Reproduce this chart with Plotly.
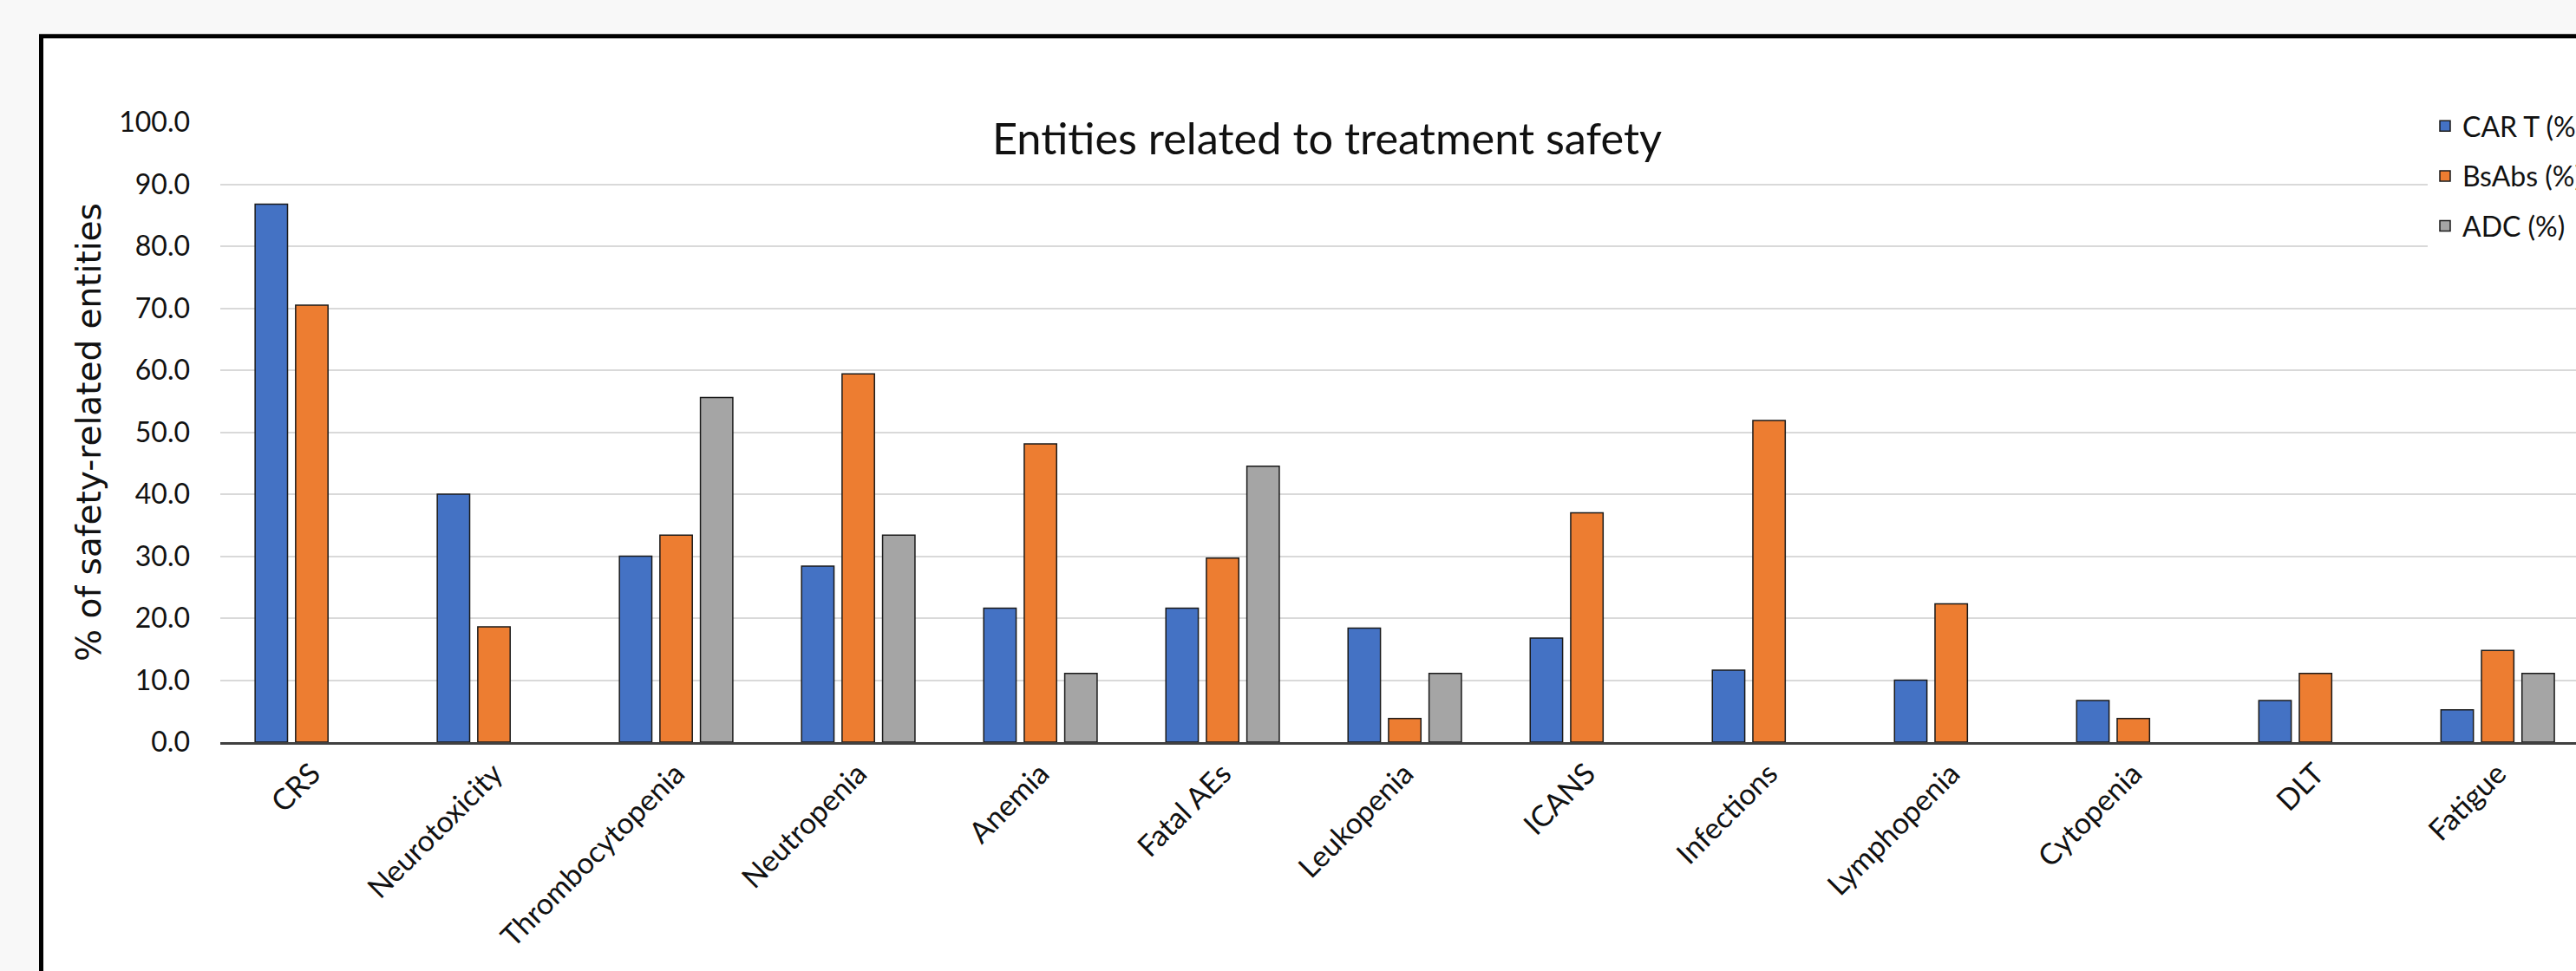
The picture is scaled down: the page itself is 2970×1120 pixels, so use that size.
import plotly.graph_objects as go

# Share of safety-related entities reported per treatment modality (%)
categories = ["CRS", "Neurotoxicity", "Thrombocytopenia", "Neutropenia", "Anemia",
              "Fatal AEs", "Leukopenia", "ICANS", "Infections", "Lymphopenia",
              "Cytopenia", "DLT", "Fatigue"]
car_t = [86.8, 40.0, 30.0, 28.4, 21.6, 21.6, 18.4, 16.8, 11.6, 10.0, 6.7, 6.7, 5.2]
bsabs = [70.5, 18.6, 33.4, 59.4, 48.1, 29.7, 3.8, 37.0, 51.9, 22.3, 3.8, 11.1, 14.8]
adc = [None, None, 55.6, 33.4, 11.1, 44.5, 11.1, None, None, None, None, None, 11.1]

series_names = ["CAR T (%)", "BsAbs (%)", "ADC (%)"]
series_values = [car_t, bsabs, adc]
series_colors = ["#4472C4", "#ED7D31", "#A5A5A5"]

W, H = 2970, 1120
ML, MR, MT, MB = 254, 0, 141, 263.5
PW, PH = W - ML - MR, H - MT - MB


def px_x(p):
    """Pixel column -> paper x (plot-area relative)."""
    return (p - ML) / PW


def px_y(p):
    """Pixel row -> paper y (plot-area relative)."""
    return (H - MB - p) / PH


fig = go.Figure()
for name, vals, color in zip(series_names, series_values, series_colors):
    fig.add_trace(go.Bar(
        x=categories, y=vals, name=name, legendgroup=name,
        marker=dict(color=color, line=dict(color="#1a1a1a", width=1.5)),
    ))

shapes = [
    # chart frame with a heavy outline, running off the right and bottom edges
    dict(type="rect", xref="paper", yref="paper", layer="below",
         x0=px_x(47.5), x1=px_x(W + 60), y0=px_y(H + 60), y1=px_y(41.8),
         fillcolor="white", line=dict(color="black", width=5)),
    # white patch behind the title so the top gridline breaks around it
    dict(type="rect", xref="paper", yref="paper", layer="above",
         x0=px_x(1140), x1=px_x(1918), y0=px_y(192), y1=px_y(118),
         fillcolor="white", line=dict(width=0)),
]

fig.update_layout(
    width=W, height=H,
    margin=dict(l=ML, r=MR, t=MT, b=MB, pad=0, autoexpand=False),
    paper_bgcolor="#f8f8f8", plot_bgcolor="white",
    barmode="group", bargap=0.333, bargroupgap=0.2,
    font=dict(family="Lato, sans-serif", color="#111111"),
    title=dict(text="Entities related to treatment safety",
               font=dict(family="Lato, sans-serif", size=50.5, color="#111111"),
               xref="container", x=1530 / W, xanchor="center",
               yref="container", y=1 - 160 / H, yanchor="middle"),
    legend=dict(xref="container", x=2799 / W, xanchor="left",
                yref="container", y=1 - 118 / H, yanchor="top",
                bgcolor="white", borderwidth=0, tracegroupgap=13,
                font=dict(family="Lato, sans-serif", size=32, color="#111111")),
    shapes=shapes,
    xaxis=dict(range=[-0.5024, 12.43], tickangle=-45, ticks="",
               tickfont=dict(family="Lato, sans-serif", size=34, color="#111111"),
               showgrid=False, showline=True, linecolor="#404040", linewidth=3),
    yaxis=dict(range=[0, 100], dtick=10, tick0=0, tickformat=".1f", ticks="",
               showgrid=True, gridcolor="#d9d9d9", gridwidth=2,
               zeroline=False, showline=False, ticklabelstandoff=34,
               tickfont=dict(family="Lato, sans-serif", size=32, color="#111111"),
               title=dict(text="% of safety-related entities", standoff=8,
                          font=dict(family="DejaVu Sans", size=39, color="#111111"))),
)

fig.write_html("out.html")
